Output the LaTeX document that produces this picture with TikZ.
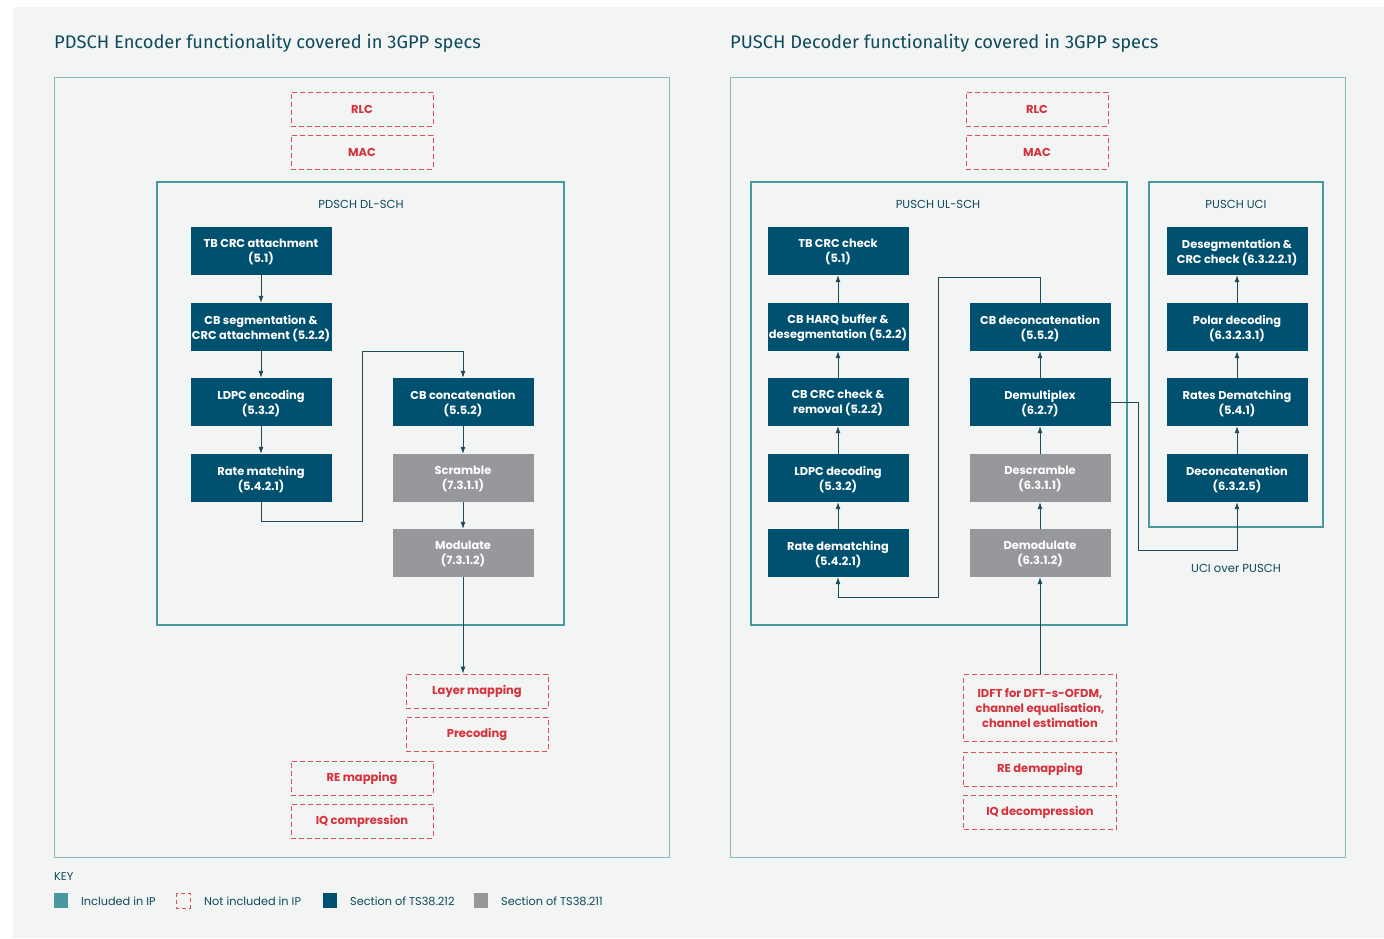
\documentclass[tikz,border=0pt]{standalone}
\usepackage{fontspec}
\setmainfont{Poppins}
\newfontfamily\titlefont{Fira Sans}
\usetikzlibrary{arrows.meta}

\definecolor{bgcol}{HTML}{F3F4F4}
\definecolor{ipteal}{HTML}{4A97A0}
\definecolor{paneline}{HTML}{8DB8BE}
\definecolor{specblue}{HTML}{00506F}
\definecolor{specgray}{HTML}{96989B}
\definecolor{notipred}{HTML}{D6303A}
\definecolor{titleblue}{HTML}{0D4A5B}
\definecolor{flowline}{HTML}{1E4A5C}

\tikzset{
  specbox/.style={fill=specblue, text=white, align=center, inner sep=0pt,
    font=\fontsize{11.4}{15}\selectfont\bfseries, text depth=-3pt,
    minimum width=141pt, minimum height=48pt},
  ts211box/.style={specbox, fill=specgray},
  notip/.style={draw=notipred!85, dash pattern=on 5pt off 3pt, line width=0.9pt,
    text=notipred, align=center, inner sep=0pt,
    font=\fontsize{11.5}{15}\selectfont\bfseries,
    minimum width=142pt, minimum height=34pt},
  ipframe/.style={draw=ipteal, line width=2.8pt},
  panel/.style={draw=paneline, line width=1pt},
  grouplabel/.style={text=titleblue, font=\fontsize{11.6}{13}\selectfont},
  flow/.style={draw=flowline, line width=0.8pt},
  flowarrow/.style={flow, -{Latex[length=7pt,width=5pt]}},
  keytext/.style={text=titleblue, anchor=west, inner sep=0pt, font=\fontsize{11.3}{13}\selectfont},
}

\begin{document}
\begin{tikzpicture}[x=1pt, y=-1pt]
  \useasboundingbox (0,0) rectangle (1384,938);
  \fill[bgcol] (13,7) rectangle (1384,938);

  % titles
  \node[anchor=base west, inner sep=0pt, text=titleblue, font=\titlefont\fontsize{18.3}{21}\selectfont]
    (dltitle) at (54,48) {PDSCH Encoder functionality covered in 3GPP specs};
  \node[anchor=base west, inner sep=0pt, text=titleblue, font=\titlefont\fontsize{18.3}{21}\selectfont]
    (ultitle) at (730,48) {PUSCH Decoder functionality covered in 3GPP specs};

  % outer panels
  \draw[panel] (54,77) rectangle (669,857);
  \draw[panel] (730,77) rectangle (1345,857);

  % ---------------- PDSCH encoder ----------------
  \node[notip] (dlrlc) at (362,109) {RLC};
  \node[notip] (dlmac) at (362,152) {MAC};

  \draw[ipframe] (157,182) rectangle (564,625);
  \node[grouplabel] (dlsch) at (361,204) {PDSCH DL-SCH};

  \node[specbox] (tbcrc) at (261,251) {TB CRC attachment\\(5.1)};
  \node[specbox] (cbseg) at (261,327) {CB segmentation \&\\CRC attachment (5.2.2)};
  \node[specbox] (ldpcenc) at (261,402) {LDPC encoding\\(5.3.2)};
  \node[specbox] (ratematch) at (261,478) {Rate matching\\(5.4.2.1)};

  \node[specbox] (cbconcat) at (463,402) {CB concatenation\\(5.5.2)};
  \node[ts211box] (scramble) at (463,478) {Scramble\\(7.3.1.1)};
  \node[ts211box] (modulate) at (463,553) {Modulate\\(7.3.1.2)};

  \node[notip] (layermap) at (477,691) {Layer mapping};
  \node[notip] (precoding) at (477,734) {Precoding};
  \node[notip] (remap) at (362,778) {RE mapping};
  \node[notip] (iqcomp) at (362,821) {IQ compression};

  \coordinate (dlturnlow) at (362,521);
  \coordinate (dlturnhigh) at (362,351);

  \draw[flowarrow] (tbcrc) -- (cbseg);
  \draw[flowarrow] (cbseg) -- (ldpcenc);
  \draw[flowarrow] (ldpcenc) -- (ratematch);
  \draw[flowarrow] (ratematch.south) |- (dlturnlow) -- (dlturnhigh) -| (cbconcat.north);
  \draw[flowarrow] (cbconcat) -- (scramble);
  \draw[flowarrow] (scramble) -- (modulate);
  \draw[flowarrow] (modulate.south) -- (modulate.south |- layermap.north);

  % ---------------- PUSCH decoder ----------------
  \node[notip] (ulrlc) at (1037,109) {RLC};
  \node[notip] (ulmac) at (1037,152) {MAC};

  \draw[ipframe] (751,182) rectangle (1127,625);
  \node[grouplabel] (ulsch) at (938,204) {PUSCH UL-SCH};
  \draw[ipframe] (1149,182) rectangle (1323,527);
  \node[grouplabel] (uci) at (1236,204) {PUSCH UCI};

  \node[specbox] (tbcheck) at (838,251) {TB CRC check\\(5.1)};
  \node[specbox] (harq) at (838,327) {CB HARQ buffer \&\\desegmentation (5.2.2)};
  \node[specbox] (cbcheck) at (838,402) {CB CRC check \&\\removal (5.2.2)};
  \node[specbox] (ldpcdec) at (838,478) {LDPC decoding\\(5.3.2)};
  \node[specbox] (ratedematch) at (838,553) {Rate dematching\\(5.4.2.1)};

  \node[specbox] (cbdeconcat) at (1040,327) {CB deconcatenation\\(5.5.2)};
  \node[specbox] (demux) at (1040,402) {Demultiplex\\(6.2.7)};
  \node[ts211box] (descramble) at (1040,478) {Descramble\\(6.3.1.1)};
  \node[ts211box] (demod) at (1040,553) {Demodulate\\(6.3.1.2)};

  \node[specbox] (desegcrc) at (1237,251) {Desegmentation \&\\CRC check (6.3.2.2.1)};
  \node[specbox] (polardec) at (1237,327) {Polar decoding\\(6.3.2.3.1)};
  \node[specbox] (ratesdem) at (1237,402) {Rates Dematching\\(5.4.1)};
  \node[specbox] (deconcat) at (1237,478) {Deconcatenation\\(6.3.2.5)};
  \node[grouplabel] (ucipusch) at (1236,568) {UCI over PUSCH};

  \node[notip, minimum width=153pt, minimum height=67pt] (idft) at (1040,708)
    {IDFT for DFT-s-OFDM,\\channel equalisation,\\channel estimation};
  \node[notip, minimum width=153pt] (redemap) at (1040,769) {RE demapping};
  \node[notip, minimum width=153pt] (iqdecomp) at (1040,812) {IQ decompression};

  \coordinate (ulturnhigh) at (938,277);
  \coordinate (ulturnlow) at (938,597);
  \coordinate (ucidrop) at (1138,550);

  \draw[flowarrow] (harq) -- (tbcheck);
  \draw[flowarrow] (cbcheck) -- (harq);
  \draw[flowarrow] (ldpcdec) -- (cbcheck);
  \draw[flowarrow] (ratedematch) -- (ldpcdec);
  \draw[flowarrow] (cbdeconcat.north) |- (ulturnhigh) -- (ulturnlow) -| (ratedematch.south);
  \draw[flowarrow] (demux) -- (cbdeconcat);
  \draw[flowarrow] (descramble) -- (demux);
  \draw[flowarrow] (demod) -- (descramble);
  \draw[flowarrow] (idft.north) -- (demod.south);
  \draw[flowarrow] (demux.east) -| (ucidrop) -| (deconcat.south);
  \draw[flowarrow] (polardec) -- (desegcrc);
  \draw[flowarrow] (ratesdem) -- (polardec);
  \draw[flowarrow] (deconcat) -- (ratesdem);

  % ---------------- key ----------------
  \node[keytext] (keyhead) at (54,877) {KEY};
  \fill[ipteal] (54,893) rectangle (68,908);
  \node[keytext] (keyip) at (81,901) {Included in IP};
  \draw[draw=notipred!85, dash pattern=on 4pt off 3pt, line width=0.9pt] (176,893) rectangle (190,908);
  \node[keytext] (keynotip) at (204,901) {Not included in IP};
  \fill[specblue] (323,893) rectangle (337,908);
  \node[keytext] (key212) at (350,901) {Section of TS38.212};
  \fill[specgray] (474,893) rectangle (488,908);
  \node[keytext] (key211) at (501,901) {Section of TS38.211};
\end{tikzpicture}
\end{document}
